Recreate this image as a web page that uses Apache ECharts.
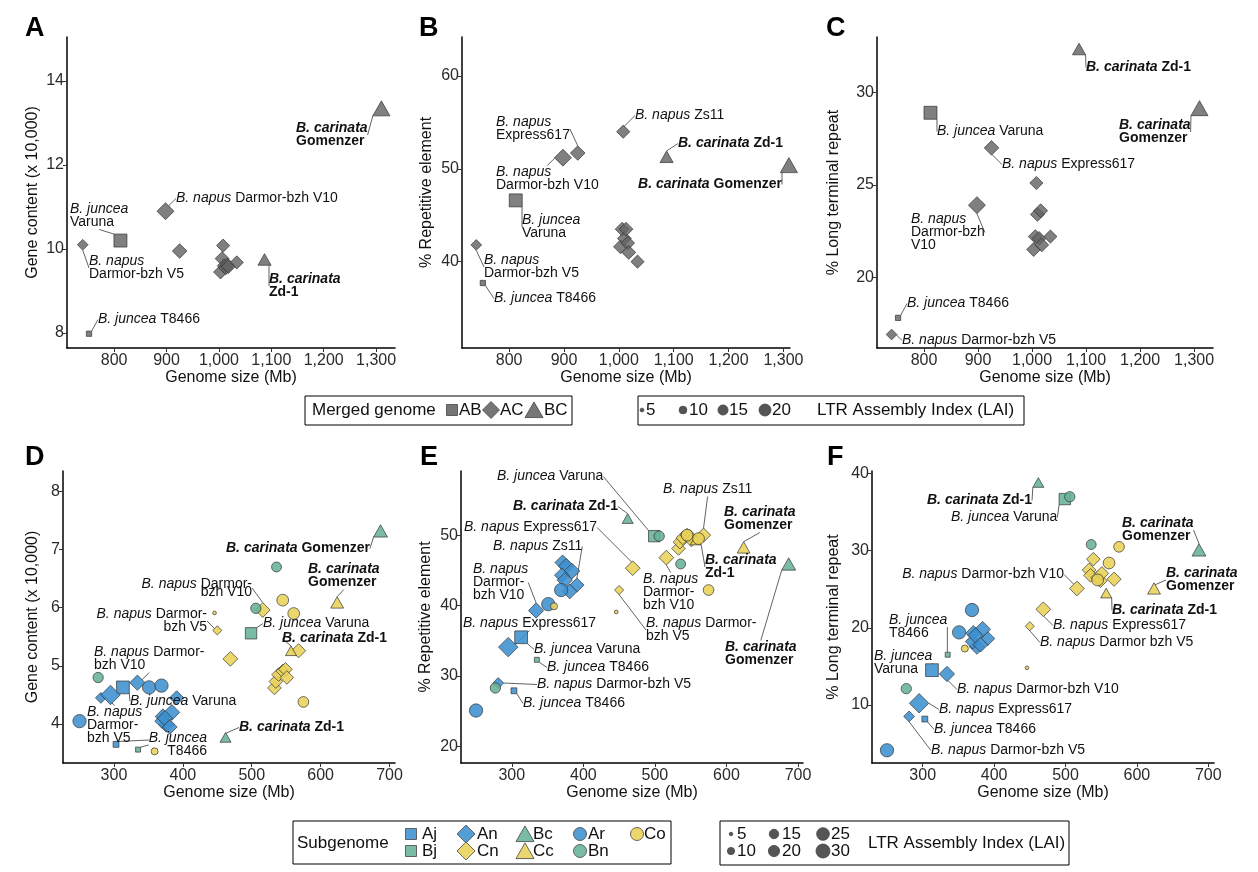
<!DOCTYPE html>
<html><head><meta charset="utf-8">
<script src="https://cdn.jsdelivr.net/npm/echarts@6/dist/echarts.min.js"></script>
<style>html,body{margin:0;padding:0;background:#fff}#c{width:1258px;height:872px}</style>
</head><body><div id="c"></div>
<script>
// ---------------- DATA: merged genomes (panels A-C) ----------------
const asmId     = ['jV','jT','nV5','nV10','nE','nZ','n1','n2','n3','n4','n5','n6','n7','cZ','cG'];
const asmMerged = ['AB','AB','AC','AC','AC','AC','AC','AC','AC','AC','AC','AC','AC','BC','BC'];
const asmSize   = [812, 752, 740, 898, 925, 1008, 1003, 1006, 1010, 1013, 1016, 1018, 1034, 1087, 1310];
const asmGene   = [10.20, 7.98, 10.10, 10.90, 9.95, 10.08, 9.45, 9.77, 9.60, 9.55, 9.62, 9.58, 9.68, 9.75, 13.35];
const asmRep    = [46.6, 37.7, 41.8, 51.2, 51.7, 54.0, 41.6, 43.5, 42.5, 43.5, 42.0, 41.0, 40.0, 51.3, 50.4];
const asmLtr    = [28.9, 17.8, 16.9, 23.9, 27.0, 25.1, 21.5, 22.2, 23.4, 22.1, 23.6, 21.75, 22.2, 32.35, 29.15];
const asmLai    = [20, 6, 9, 18, 14, 12, 13, 13, 13, 13, 13, 13, 12, 13, 20];

// ---------------- DATA: subgenomes (panels D-F) ----------------
const subId   = ['ar1','ar2','ar3','jVA','jTA','nV5A','nEA','nV10A','nZA','nA1','nA2','nA3','nA4','nA5','nA6',
                 'bn1','bn2','bn3','jVB','jTB','cZB','cGB',
                 'co1','co2','co3','co4','co5','nV5C','nEC','nV10C','nZC','nC1','nC2','nC3','nC4','nC5','nC6','cZC','cGC'];
const subType = ['Ar','Ar','Ar','Aj','Aj','An','An','An','An','An','An','An','An','An','An',
                 'Bn','Bn','Bn','Bj','Bj','Bc','Bc',
                 'Co','Co','Co','Co','Co','Cn','Cn','Cn','Cn','Cn','Cn','Cn','Cn','Cn','Cn','Cc','Cc'];
const subSize = [250, 351, 369, 313, 303, 281, 295, 334, 391, 371, 376, 384, 370, 374, 381,
                 277, 506, 536, 499, 335, 462, 687,
                 446, 359, 545, 561, 575, 450, 469, 516, 568, 533, 535, 539, 545, 549, 551, 557, 624];
const subGene = [4.05, 4.63, 4.66, 4.63, 3.65, 4.45, 4.50, 4.71, 4.45, 4.13, 3.99, 4.20, 4.05, 4.10, 3.95,
                 4.80, 5.99, 6.70, 5.56, 3.56, 3.77, 7.32,
                 5.91, 3.53, 6.13, 5.90, 4.38, 5.61, 5.12, 5.96, 5.26, 4.62, 4.73, 4.85, 4.91, 4.94, 4.80, 5.26, 6.09];
const subRep  = [25.1, 40.2, 42.2, 35.5, 27.9, 29.0, 34.1, 39.3, 42.9, 46.1, 45.6, 44.9, 44.3, 43.6, 42.0,
                 28.3, 49.85, 45.9, 49.85, 32.3, 52.35, 45.9,
                 39.1, 39.9, 50.0, 49.5, 42.2, 42.2, 45.3, 46.8, 50.0, 48.1, 49.0, 49.6, 50.0, 49.8, 49.3, 49.3, 48.25];
const subLtr  = [4.1, 19.4, 22.3, 14.5, 8.15, 8.5, 10.2, 14.0, 18.6, 19.3, 17.55, 19.8, 18.2, 19.0, 17.8,
                 12.1, 37.0, 30.8, 36.7, 16.5, 38.85, 30.1,
                 14.8, 17.3, 26.2, 28.4, 30.5, 20.2, 22.4, 25.1, 26.3, 27.5, 26.8, 28.9, 26.5, 26.1, 27.05, 24.5, 25.1];
const subLai  = [25, 25, 25, 22, 7, 10, 26, 17, 15, 17, 17, 18, 16, 17, 16,
                 16, 16, 15, 18, 6, 11, 16,
                 5, 9, 20, 20, 17, 8, 16, 16, 15, 14, 14, 14, 14, 14, 14, 11, 14];

// ---------------- tick labels ----------------
const xTicksTop = [800, 900, 1000, 1100, 1200, 1300];
const xTicksBot = [300, 400, 500, 600, 700];
const yTicks = [[8, 10, 12, 14], [40, 50, 60], [20, 25, 30], [4, 5, 6, 7, 8], [20, 30, 40, 50], [10, 20, 30, 40]];
const yNames = ['Gene content (x 10,000)', '% Repetitive element', '% Long terminal repeat',
                'Gene content (x 10,000)', '% Repetitive element', '% Long terminal repeat'];
const panelLetters = ['A', 'B', 'C', 'D', 'E', 'F'];
const mergedGroups = ['AB', 'AC', 'BC'];
const subGroups = ['Aj', 'Bj', 'An', 'Cn', 'Bc', 'Cc', 'Ar', 'Bn', 'Co'];
const lltLegend1 = [5, 10, 15, 20];
const lltLegend2 = [5, 10, 15, 20, 25, 30];

// ---------------- layout / style ----------------
const FONT = "'Liberation Sans', Arial, Helvetica, sans-serif";
const grids = [
  {left: 67, top: 37, width: 328, height: 311},
  {left: 462, top: 37, width: 328, height: 311},
  {left: 877, top: 37, width: 336, height: 311},
  {left: 63, top: 471, width: 332, height: 292},
  {left: 461, top: 471, width: 342, height: 292},
  {left: 872, top: 471, width: 342, height: 292}
];
const xRange = [[710, 1336], [714, 1312], [713, 1335], [226, 708], [229, 707], [229, 708]];
const yRange = [[7.64, 15.05], [30.7, 64.2], [16.17, 33.0], [3.33, 8.35], [17.65, 59.1], [2.45, 40.34]];
const yGaps = [26, 27, 35, 22, 27, 30];
const letterPos = [[25, 15], [419, 15], [826, 15], [25, 444], [420, 444], [827, 444]];

const shapeOf = {AB: 'rect', AC: 'diamond', BC: 'triangle',
  Aj: 'rect', Bj: 'rect', An: 'diamond', Cn: 'diamond', Bc: 'triangle', Cc: 'triangle', Ar: 'circle', Bn: 'circle', Co: 'circle'};
const BLUE = 'rgba(62,145,207,0.88)', GREEN = 'rgba(104,178,150,0.88)', YELLOW = 'rgba(232,210,88,0.88)';
const GREY = 'rgba(100,100,100,0.82)';
const colorOf = {AB: GREY, AC: GREY, BC: GREY,
  Aj: BLUE, An: BLUE, Ar: BLUE, Bj: GREEN, Bn: GREEN, Bc: GREEN, Cn: YELLOW, Cc: YELLOW, Co: YELLOW};
const shapeScale = {rect: 1.08, circle: 1.05, diamond: 1.5, triangle: 1.42};
const topSize = l => 1 + 11 * Math.sqrt(Math.max(l - 4, 0) / 16);
const botSize = l => 1 + 13 * Math.sqrt(Math.max(l - 4, 0) / 26);

// ---------------- label annotations (anchor px, text) ----------------
const labels = [
  // A
  {p: 0, id: 'cG', t: '{bi|B. carinata}\n{b|Gomenzer}', x: 296, y: 122, a: 'left'},
  {p: 0, id: 'nV10', t: '{i|B. napus}{n| Darmor-bzh V10}', x: 176, y: 192, a: 'left'},
  {p: 0, id: 'jV', t: '{i|B. juncea}\n{n|Varuna}', x: 70, y: 203, a: 'left'},
  {p: 0, id: 'nV5', t: '{i|B. napus}\n{n|Darmor-bzh V5}', x: 89, y: 255, a: 'left'},
  {p: 0, id: 'cZ', t: '{bi|B. carinata}\n{b|Zd-1}', x: 269, y: 273, a: 'left'},
  {p: 0, id: 'jT', t: '{i|B. juncea}{n| T8466}', x: 98, y: 313, a: 'left'},
  // B
  {p: 1, id: 'nZ', t: '{i|B. napus}{n| Zs11}', x: 635, y: 109, a: 'left'},
  {p: 1, id: 'nE', t: '{i|B. napus}\n{n|Express617}', x: 496, y: 116, a: 'left'},
  {p: 1, id: 'cZ', t: '{bi|B. carinata}{b| Zd-1}', x: 678, y: 137, a: 'left'},
  {p: 1, id: 'cG', t: '{bi|B. carinata}{b| Gomenzer}', x: 782, y: 178, a: 'right'},
  {p: 1, id: 'nV10', t: '{i|B. napus}\n{n|Darmor-bzh V10}', x: 496, y: 166, a: 'left'},
  {p: 1, id: 'jV', t: '{i|B. juncea}\n{n|Varuna}', x: 522, y: 214, a: 'left'},
  {p: 1, id: 'nV5', t: '{i|B. napus}\n{n|Darmor-bzh V5}', x: 484, y: 254, a: 'left'},
  {p: 1, id: 'jT', t: '{i|B. juncea}{n| T8466}', x: 494, y: 292, a: 'left'},
  // C
  {p: 2, id: 'cZ', t: '{bi|B. carinata}{b| Zd-1}', x: 1086, y: 61, a: 'left'},
  {p: 2, id: 'cG', t: '{bi|B. carinata}\n{b|Gomenzer}', x: 1119, y: 119, a: 'left'},
  {p: 2, id: 'jV', t: '{i|B. juncea}{n| Varuna}', x: 937, y: 125, a: 'left'},
  {p: 2, id: 'nE', t: '{i|B. napus}{n| Express617}', x: 1002, y: 158, a: 'left'},
  {p: 2, id: 'nV10', t: '{i|B. napus}\n{n|Darmor-bzh}\n{n|V10}', x: 911, y: 213, a: 'left'},
  {p: 2, id: 'jT', t: '{i|B. juncea}{n| T8466}', x: 907, y: 297, a: 'left'},
  {p: 2, id: 'nV5', t: '{i|B. napus}{n| Darmor-bzh V5}', x: 902, y: 334, a: 'left'},
  // D
  {p: 3, id: 'cGB', t: '{bi|B. carinata}{b| Gomenzer}', x: 226, y: 542, a: 'left'},
  {p: 3, id: 'cGC', t: '{bi|B. carinata}\n{b|Gomenzer}', x: 308, y: 563, a: 'left'},
  {p: 3, id: 'nV10C', t: '{i8|B. napus}{n8| Darmor-}\n{n8|bzh V10}', x: 252, y: 580, a: 'right'},
  {p: 3, id: 'nV5C', t: '{i|B. napus}{n| Darmor-}\n{n|bzh V5}', x: 207, y: 608, a: 'right'},
  {p: 3, id: 'jVB', t: '{i|B. juncea}{n| Varuna}', x: 263, y: 617, a: 'left'},
  {p: 3, id: 'cZC', t: '{bi|B. carinata}{b| Zd-1}', x: 282, y: 632, a: 'left'},
  {p: 3, id: 'nV10A', t: '{i|B. napus}{n| Darmor-}\n{n|bzh V10}', x: 94, y: 646, a: 'left'},
  {p: 3, id: 'jVA', t: '{i|B. juncea}{n| Varuna}', x: 130, y: 695, a: 'left'},
  {p: 3, id: 'nV5A', t: '{i|B. napus}\n{n|Darmor-}\n{n|bzh V5}', x: 87, y: 706, a: 'left'},
  {p: 3, id: 'jTB', t: '{i|B. juncea}\n{n|T8466}', x: 207, y: 732, a: 'right'},
  {p: 3, id: 'jTA', t: ' ', x: 149, y: 733, a: 'left'},
  {p: 3, id: 'cZB', t: '{bi|B. carinata}{b| Zd-1}', x: 239, y: 721, a: 'left'},
  // E
  {p: 4, id: 'jVB', t: '{i|B. juncea}{n| Varuna}', x: 497, y: 470, a: 'left'},
  {p: 4, id: 'nZC', t: '{i|B. napus}{n| Zs11}', x: 663, y: 483, a: 'left'},
  {p: 4, id: 'cZB', t: '{bi|B. carinata}{b| Zd-1}', x: 618, y: 500, a: 'right'},
  {p: 4, id: 'cGC', t: '{bi|B. carinata}\n{b|Gomenzer}', x: 724, y: 506, a: 'left'},
  {p: 4, id: 'nEC', t: '{i|B. napus}{n| Express617}', x: 464, y: 521, a: 'left'},
  {p: 4, id: 'nZA', t: '{i|B. napus}{n| Zs11}', x: 493, y: 540, a: 'left'},
  {p: 4, id: 'cZC', t: '{bi|B. carinata}\n{b|Zd-1}', x: 705, y: 554, a: 'left'},
  {p: 4, id: 'nV10A', t: '{i|B. napus}\n{n|Darmor-}\n{n|bzh V10}', x: 473, y: 563, a: 'left'},
  {p: 4, id: 'nV10C', t: '{i|B. napus}\n{n|Darmor-}\n{n|bzh V10}', x: 643, y: 573, a: 'left'},
  {p: 4, id: 'nV5C', t: '{i|B. napus}{n| Darmor-}\n{n|bzh V5}', x: 646, y: 617, a: 'left'},
  {p: 4, id: 'cGB', t: '{bi|B. carinata}\n{b|Gomenzer}', x: 725, y: 641, a: 'left'},
  {p: 4, id: 'nEA', t: '{i|B. napus}{n| Express617}', x: 463, y: 617, a: 'left'},
  {p: 4, id: 'jVA', t: '{i|B. juncea}{n| Varuna}', x: 534, y: 643, a: 'left'},
  {p: 4, id: 'jTB', t: '{i|B. juncea}{n| T8466}', x: 547, y: 661, a: 'left'},
  {p: 4, id: 'nV5A', t: '{i|B. napus}{n| Darmor-bzh V5}', x: 537, y: 678, a: 'left'},
  {p: 4, id: 'jTA', t: '{i|B. juncea}{n| T8466}', x: 523, y: 697, a: 'left'},
  // F
  {p: 5, id: 'cZB', t: '{bi|B. carinata}{b| Zd-1}', x: 927, y: 494, a: 'left'},
  {p: 5, id: 'jVB', t: '{i|B. juncea}{n| Varuna}', x: 951, y: 511, a: 'left'},
  {p: 5, id: 'cGB', t: '{bi|B. carinata}\n{b|Gomenzer}', x: 1122, y: 517, a: 'left'},
  {p: 5, id: 'nV10C', t: '{i|B. napus}{n| Darmor-bzh V10}', x: 1064, y: 568, a: 'right'},
  {p: 5, id: 'cGC', t: '{bi|B. carinata}\n{b|Gomenzer}', x: 1166, y: 567, a: 'left'},
  {p: 5, id: 'cZC', t: '{bi|B. carinata}{b| Zd-1}', x: 1112, y: 604, a: 'left'},
  {p: 5, id: 'jTB', t: '{i|B. juncea}\n{n|T8466}', x: 889, y: 614, a: 'left'},
  {p: 5, id: 'nEC', t: '{i|B. napus}{n| Express617}', x: 1053, y: 619, a: 'left'},
  {p: 5, id: 'nV5C', t: '{i|B. napus}{n| Darmor bzh V5}', x: 1040, y: 636, a: 'left'},
  {p: 5, id: 'jVA', t: '{i|B. juncea}\n{n|Varuna}', x: 874, y: 650, a: 'left'},
  {p: 5, id: 'nV10A', t: '{i|B. napus}{n| Darmor-bzh V10}', x: 957, y: 683, a: 'left'},
  {p: 5, id: 'nEA', t: '{i|B. napus}{n| Express617}', x: 939, y: 703, a: 'left'},
  {p: 5, id: 'jTA', t: '{i|B. juncea}{n| T8466}', x: 934, y: 723, a: 'left'},
  {p: 5, id: 'nV5A', t: '{i|B. napus}{n| Darmor-bzh V5}', x: 931, y: 744, a: 'left'}
];

const TXT = {fontFamily: FONT, fontSize: 14, lineHeight: 13, color: '#111'};
const RICH = {
  i: Object.assign({}, TXT, {fontStyle: 'italic'}),
  n: Object.assign({}, TXT),
  b: Object.assign({}, TXT, {fontWeight: 'bold'}),
  bi: Object.assign({}, TXT, {fontStyle: 'italic', fontWeight: 'bold'}),
  i8: Object.assign({}, TXT, {fontStyle: 'italic', lineHeight: 8}),
  n8: Object.assign({}, TXT, {lineHeight: 8})
};

const fmtNum = v => String(v).replace(/\B(?=(\d{3})+(?!\d))/g, ',');

const xAxes = [], yAxes = [], series = [], graphic = [];
for (let g = 0; g < 6; g++) {
  const xt = g < 3 ? xTicksTop : xTicksBot;
  xAxes.push({
    type: 'value', gridIndex: g, min: xRange[g][0], max: xRange[g][1],
    name: 'Genome size (Mb)', nameLocation: 'middle', nameGap: g < 3 ? 21 : 22,
    nameTextStyle: {fontFamily: FONT, fontSize: 16, color: '#111'},
    axisLine: {show: true, onZero: false, lineStyle: {color: '#000', width: 1.5}},
    axisTick: {show: true, length: 4, customValues: xt, lineStyle: {color: '#333', width: 1}},
    axisLabel: {customValues: xt, fontFamily: FONT, fontSize: 16, color: '#2a2a2a', margin: 5, formatter: v => fmtNum(v)},
    splitLine: {show: false}
  });
  yAxes.push({
    type: 'value', gridIndex: g, min: yRange[g][0], max: yRange[g][1],
    name: yNames[g], nameLocation: 'middle', nameGap: yGaps[g],
    nameTextStyle: {fontFamily: FONT, fontSize: 16, color: '#111'},
    axisLine: {show: true, onZero: false, lineStyle: {color: '#000', width: 1.5}},
    axisTick: {show: true, length: 4, customValues: yTicks[g], lineStyle: {color: '#333', width: 1}},
    axisLabel: {customValues: yTicks[g], fontFamily: FONT, fontSize: 16, color: '#2a2a2a', margin: 3},
    splitLine: {show: false}
  });
  graphic.push({type: 'text', x: letterPos[g][0], y: letterPos[g][1],
    style: {text: panelLetters[g], fontFamily: FONT, fontSize: 27, fontWeight: 'bold', fill: '#000', verticalAlign: 'top'}});
}

function addSeries(g, group, idxs, ids, xs, ys, lais, sizeFn) {
  const symbol = shapeOf[group];
  const sc = shapeScale[symbol];
  const layouts = [];
  const data = idxs.map(k => {
    const L = labels.find(l => l.p === g && l.id === ids[k]);
    layouts.push(L || null);
    const item = {value: [xs[k], ys[k], lais[k]], name: ids[k]};
    if (L) item.label = {show: true, formatter: L.t};
    return item;
  });
  series.push({
    type: 'scatter', xAxisIndex: g, yAxisIndex: g, symbol: symbol, data: data,
    symbolSize: v => { const d = sizeFn(v[2]) * sc; return symbol === 'triangle' ? [d, d * 0.88] : d; },
    itemStyle: {color: colorOf[group], borderColor: '#333', borderWidth: 0.7, opacity: 1},
    label: {show: false, position: 'right', color: '#111', fontFamily: FONT, fontSize: 14, rich: RICH},
    labelLine: {show: true, smooth: false, length2: 0, lineStyle: {color: '#3a3a3a', width: 0.8}},
    labelLayout: p => { const L = layouts[p.dataIndex]; return L ? {x: L.x, y: L.y, align: L.a, verticalAlign: 'top'} : {}; },
    emphasis: {disabled: true}, silent: true, animation: false
  });
}

const topMetrics = [asmGene, asmRep, asmLtr];
const botMetrics = [subGene, subRep, subLtr];
for (let g = 0; g < 3; g++) {
  ['AC', 'AB', 'BC'].forEach(grp => {
    const idxs = asmId.map((_, k) => k).filter(k => asmMerged[k] === grp);
    addSeries(g, grp, idxs, asmId, asmSize, topMetrics[g], asmLai, topSize);
  });
}
for (let g = 3; g < 6; g++) {
  subGroups.forEach(grp => {
    const idxs = subId.map((_, k) => k).filter(k => subType[k] === grp);
    addSeries(g, grp, idxs, subId, subSize, botMetrics[g - 3], subLai, botSize);
  });
}

// ---------------- legends (graphic) ----------------
const LT = {fontFamily: FONT, fontSize: 17, fill: '#111', verticalAlign: 'middle', align: 'left'};
function gText(x, y, text) { graphic.push({type: 'text', x: x, y: y, style: Object.assign({text: text}, LT)}); }
function gBox(x, y, w, h) { graphic.push({type: 'rect', shape: {x: x, y: y, width: w, height: h}, style: {fill: '#fff', stroke: '#000', lineWidth: 1}}); }
function gSym(shape, cx, cy, d, fill) {
  const st = {fill: fill, stroke: '#444', lineWidth: 0.8};
  if (shape === 'rect') graphic.push({type: 'rect', shape: {x: cx - d / 2, y: cy - d / 2, width: d, height: d}, style: st});
  else if (shape === 'circle') graphic.push({type: 'circle', shape: {cx: cx, cy: cy, r: d / 2}, style: st});
  else if (shape === 'diamond') graphic.push({type: 'polygon', shape: {points: [[cx, cy - d / 2], [cx + d / 2, cy], [cx, cy + d / 2], [cx - d / 2, cy]]}, style: st});
  else graphic.push({type: 'polygon', shape: {points: [[cx, cy - d * 0.45], [cx + d / 2, cy + d * 0.42], [cx - d / 2, cy + d * 0.42]]}, style: st});
}
// Merged genome legend
gBox(305, 396, 267, 29);
gText(312, 410.5, 'Merged genome');
const mgX = [[452, 459], [491, 500], [534, 544]];
const mgD = {rect: 11, diamond: 17, triangle: 18};
mergedGroups.forEach((grp, k) => {
  gSym(shapeOf[grp], mgX[k][0], 410, mgD[shapeOf[grp]], '#767676');
  gText(mgX[k][1], 410.5, grp);
});
// LAI legend top
gBox(638, 396, 386, 29);
const l1X = [[642, 646], [683, 689], [723, 729], [765, 772]];
lltLegend1.forEach((v, k) => {
  gSym('circle', l1X[k][0], 410, topSize(v), '#555');
  gText(l1X[k][1], 410.5, String(v));
});
gText(817, 410.5, 'LTR Assembly Index (LAI)');

// Subgenome legend
gBox(293, 821, 378, 43);
gText(297, 843, 'Subgenome');
const sgPos = {Aj: [411, 834, 422], Bj: [411, 851, 422], An: [466, 834, 477], Cn: [466, 851, 477],
  Bc: [525, 834, 533], Cc: [525, 851, 533], Ar: [580, 834, 588], Bn: [580, 851, 588], Co: [637, 834, 644]};
const sgD = {rect: 11, diamond: 18, triangle: 18, circle: 13};
subGroups.forEach(grp => {
  const P = sgPos[grp];
  gSym(shapeOf[grp], P[0], P[1], sgD[shapeOf[grp]], colorOf[grp]);
  gText(P[2], P[1] + 0.5, grp);
});
// LAI legend bottom
gBox(720, 821, 349, 44);
const l2P = [[731, 834, 737], [731, 851, 737], [774, 834, 782], [774, 851, 782], [823, 834, 831], [823, 851, 831]];
lltLegend2.forEach((v, k) => {
  gSym('circle', l2P[k][0], l2P[k][1], botSize(v), '#555');
  gText(l2P[k][2], l2P[k][1] + 0.5, String(v));
});
gText(868, 843, 'LTR Assembly Index (LAI)');

const chart = echarts.init(document.getElementById('c'), null, {renderer: 'canvas'});
chart.setOption({
  backgroundColor: '#fff',
  animation: false,
  grid: grids,
  xAxis: xAxes,
  yAxis: yAxes,
  series: series,
  graphic: graphic
});
</script></body></html>
